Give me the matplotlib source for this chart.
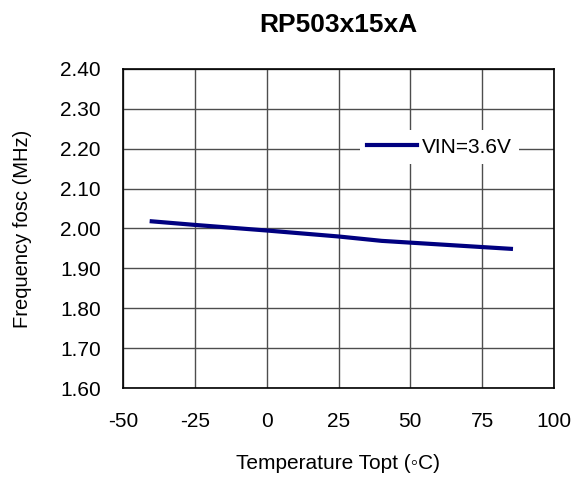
import matplotlib
matplotlib.use("Agg")
import matplotlib.pyplot as plt

plt.rcParams['font.family'] = ['Liberation Sans', 'DejaVu Sans']
plt.rcParams['axes.unicode_minus'] = False

# data
temps = [-40, -25, 0, 25, 40, 85]
freq = [2.018, 2.009, 1.995, 1.980, 1.969, 1.949]
series_label = "VIN=3.6V"
x_ticks = [-50, -25, 0, 25, 50, 75, 100]
y_ticks = [1.60, 1.70, 1.80, 1.90, 2.00, 2.10, 2.20, 2.30, 2.40]

fig = plt.figure(figsize=(5.74, 4.78), dpi=100)
ax = fig.add_axes([123 / 574, 90 / 478, 431 / 574, 319 / 478])

ax.plot(temps, freq, color='#000080', lw=3, label=series_label)

ax.set_xlim(-50, 100)
ax.set_ylim(1.60, 2.40)
ax.set_xticks(x_ticks)
ax.set_yticks(y_ticks)
ax.set_yticklabels(['%.2f' % v for v in y_ticks])
ax.tick_params(length=0, labelsize=15)
ax.tick_params(axis='x', pad=17)
ax.tick_params(axis='y', pad=16)
ax.grid(True, color='#4d4d4d', lw=1)
for s in ax.spines.values():
    s.set_color('black')
    s.set_linewidth(1.2)

ax.set_title('RP503x15xA', fontsize=19, fontweight='bold', pad=27)
ax.set_xlabel('Temperature Topt (\u25e6C)', fontsize=15, labelpad=17)
ax.set_ylabel('Frequency fosc (MHz)', fontsize=14.5, labelpad=20)

leg = ax.legend(loc='center', bbox_to_anchor=(0.734, 0.755), frameon=True,
                fontsize=15, handlelength=2.4, handletextpad=0.25,
                borderpad=0.35, borderaxespad=0, fancybox=False)
leg.get_frame().set_edgecolor('none')
leg.get_frame().set_facecolor('white')
leg.get_frame().set_alpha(1)

fig.savefig('out.png', dpi=100)
